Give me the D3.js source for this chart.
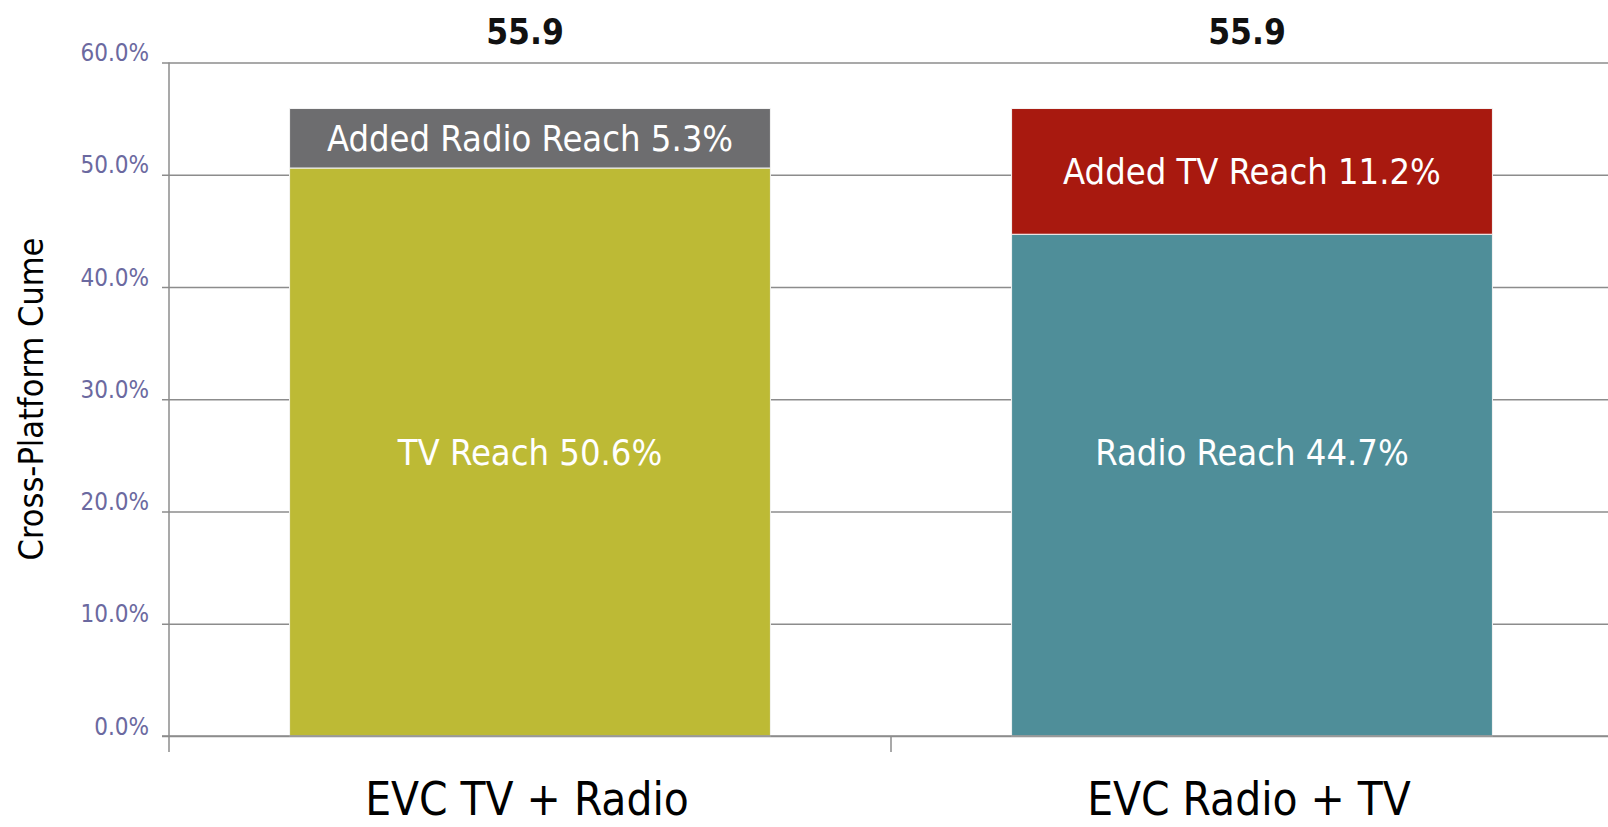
<!DOCTYPE html>
<html lang="en">
<head>
<meta charset="UTF-8">
<title>Cross-Platform Cume</title>
<script src="https://d3js.org/d3.v7.min.js"></script>
<style>
  body { margin: 0; padding: 0; background: #fff; }
  svg { display: block; font-family: "DejaVu Sans Condensed", "DejaVu Sans", sans-serif; font-stretch: condensed; }
  .tick-label { fill: #6b69a0; font-size: 24px; }
  .grid line { stroke: #8c8c8c; stroke-width: 1.5; }
  .seg-label { fill: #fff; font-size: 36px; }
  .total { fill: #111; font-size: 35px; font-weight: bold; }
  .cat { fill: #000; font-size: 45.5px; }
</style>
</head>
<body>
<div id="chart"></div>
<script>
// chart values
const categories = ["EVC TV + Radio", "EVC Radio + TV"];
const baseNames = ["TV Reach", "Radio Reach"];
const baseValues = [50.6, 44.7];
const addedNames = ["Added Radio Reach", "Added TV Reach"];
const addedValues = [5.3, 11.2];
const totals = [55.9, 55.9];
const yTicks = [0, 10, 20, 30, 40, 50, 60];

const baseColors = ["#bdba35", "#4f8e99"];
const addedColors = ["#6d6d6f", "#a8190f"];

const width = 1608, height = 827;
const plotLeft = 169, plotRight = 1613, plotTop = 62.5, plotBottom = 736;

const svg = d3.select("#chart").append("svg")
    .attr("width", width)
    .attr("height", height);

const x = d3.scaleBand()
    .domain(categories)
    .range([plotLeft, plotRight])
    .padding(0);

const y = d3.scaleLinear()
    .domain([0, 60])
    .range([plotBottom, plotTop]);

const barW = x.bandwidth() * 0.666;
const barX = d => x(d) + (x.bandwidth() - barW) / 2;
const mid = d => x(d) + x.bandwidth() / 2;

// gridlines (behind bars)
svg.append("g").attr("class", "grid")
    .attr("transform", `translate(${plotLeft},0)`)
    .call(d3.axisLeft(y).tickValues(yTicks).tickSize(-(width - plotLeft)).tickFormat(""))
    .call(g => g.select(".domain").remove());

// left ticks and labels
const yAxis = svg.append("g")
    .attr("transform", `translate(${plotLeft},0)`)
    .call(d3.axisLeft(y).tickValues(yTicks).tickSize(7).tickPadding(13)
        .tickFormat(d => d3.format(".1f")(d) + "%"));
yAxis.attr("font-size", null).attr("font-family", null);
yAxis.select(".domain").remove();
yAxis.selectAll(".tick line").attr("stroke", "#8c8c8c").attr("stroke-width", 1.5);
yAxis.selectAll(".tick text")
    .attr("class", "tick-label")
    .attr("dy", "-0.08em")
    .attr("y", 0);

// vertical axis line
svg.append("line")
    .attr("x1", plotLeft).attr("x2", plotLeft)
    .attr("y1", plotTop).attr("y2", plotBottom + 16)
    .attr("stroke", "#8c8c8c").attr("stroke-width", 1.5);

// category boundary ticks
svg.selectAll(".cat-tick")
    .data(categories.slice(1))
    .enter().append("line")
    .attr("x1", d => x(d)).attr("x2", d => x(d))
    .attr("y1", plotBottom).attr("y2", plotBottom + 16)
    .attr("stroke", "#8c8c8c").attr("stroke-width", 1.5);

// base segments
svg.selectAll(".base")
    .data(categories)
    .enter().append("rect")
    .attr("x", d => barX(d))
    .attr("width", barW)
    .attr("y", (d, i) => y(baseValues[i]))
    .attr("height", (d, i) => y(0) - y(baseValues[i]))
    .attr("fill", (d, i) => baseColors[i])
    .attr("stroke", "#f4f4f4").attr("stroke-width", 1);

// added segments
svg.selectAll(".added")
    .data(categories)
    .enter().append("rect")
    .attr("x", d => barX(d))
    .attr("width", barW)
    .attr("y", (d, i) => y(baseValues[i] + addedValues[i]))
    .attr("height", (d, i) => y(baseValues[i]) - y(baseValues[i] + addedValues[i]))
    .attr("fill", (d, i) => addedColors[i])
    .attr("stroke", "#f4f4f4").attr("stroke-width", 1);

// redraw baseline over bars
svg.append("line")
    .attr("x1", plotLeft - 7).attr("x2", width)
    .attr("y1", y(0)).attr("y2", y(0))
    .attr("stroke", "#8c8c8c").attr("stroke-width", 1.5);

// segment labels (base labels share one height)
const baseLabelY = y(d3.max(baseValues) / 2);
svg.selectAll(".base-label")
    .data(categories)
    .enter().append("text")
    .attr("class", "seg-label")
    .attr("text-anchor", "middle")
    .attr("x", d => mid(d))
    .attr("y", baseLabelY + 36 * 0.36)
    .text((d, i) => `${baseNames[i]} ${baseValues[i]}%`);

svg.selectAll(".added-label")
    .data(categories)
    .enter().append("text")
    .attr("class", "seg-label")
    .attr("text-anchor", "middle")
    .attr("x", d => mid(d))
    .attr("y", (d, i) => y(baseValues[i] + addedValues[i] / 2) + 36 * 0.36)
    .text((d, i) => `${addedNames[i]} ${addedValues[i]}%`);

// totals on top
svg.selectAll(".total")
    .data(categories)
    .enter().append("text")
    .attr("class", "total")
    .attr("text-anchor", "middle")
    .attr("x", d => mid(d) - 5)
    .attr("y", 44)
    .text((d, i) => d3.format(".1f")(totals[i]));

// category labels
svg.selectAll(".cat")
    .data(categories)
    .enter().append("text")
    .attr("class", "cat")
    .attr("text-anchor", "middle")
    .attr("x", d => mid(d) - 3)
    .attr("y", 815)
    .text(d => d);

// y axis title
svg.append("text")
    .attr("transform", `translate(43,399) rotate(-90)`)
    .attr("text-anchor", "middle")
    .attr("font-size", 34)
    .attr("fill", "#000")
    .text("Cross-Platform Cume");
</script>
</body>
</html>
